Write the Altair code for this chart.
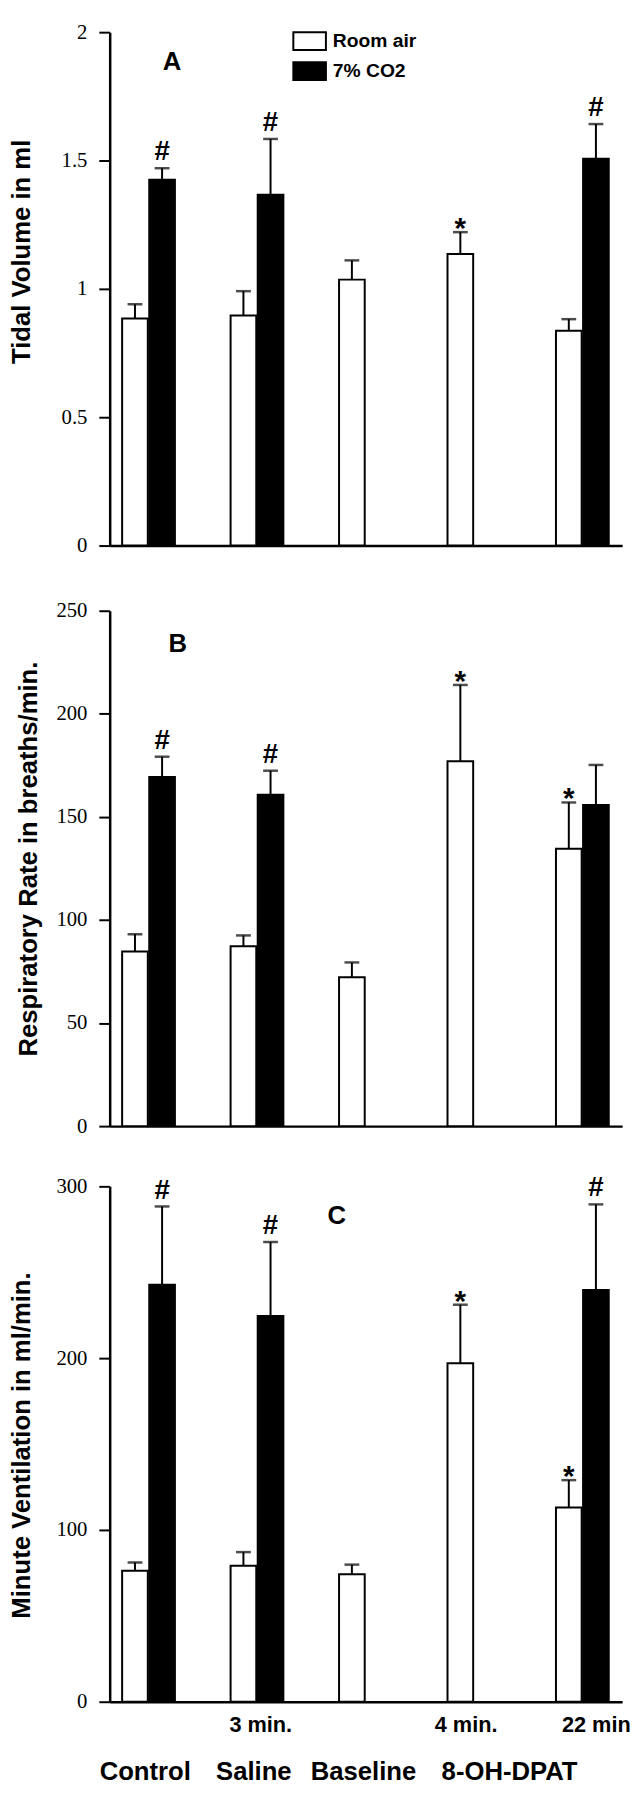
import altair as alt
import pandas as pd

groups = ["Control", "Saline 3 min.", "Baseline", "8-OH-DPAT 4 min.", "8-OH-DPAT 22 min"]
conditions = ["Room air", "7% CO2"]

# Panel A: tidal volume (ml)
tv_room_mean = [0.885, 0.896, 1.036, 1.136, 0.837]
tv_room_sem = [0.055, 0.095, 0.075, 0.085, 0.045]
tv_room_sig = ["", "", "", "*", ""]
tv_co2_mean = [1.425, 1.367, None, None, 1.507]
tv_co2_sem = [0.045, 0.217, None, None, 0.135]
tv_co2_sig = ["#", "#", "", "", "#"]

# Panel B: respiratory rate (breaths/min)
rr_room_mean = [84.7, 87.2, 72.2, 177.0, 134.6]
rr_room_sem = [8.4, 5.3, 7.2, 37.0, 22.4]
rr_room_sig = ["", "", "", "*", "*"]
rr_co2_mean = [169.4, 160.8, None, None, 155.8]
rr_co2_sem = [9.8, 11.6, None, None, 19.4]
rr_co2_sig = ["#", "#", "", "", ""]

# Panel C: minute ventilation (ml/min)
mv_room_mean = [76.2, 79.1, 74.2, 197.0, 113.1]
mv_room_sem = [4.8, 8.0, 5.6, 34.1, 15.9]
mv_room_sig = ["", "", "", "*", "*"]
mv_co2_mean = [242.8, 224.6, None, None, 239.7]
mv_co2_sem = [45.5, 43.0, None, None, 49.8]
mv_co2_sig = ["#", "#", "", "", "#"]

time_labels = ["3 min.", "4 min.", "22 min"]
group_labels = ["Control", "Saline", "Baseline", "8-OH-DPAT"]

SANS = "Liberation Sans"
SERIF = "Liberation Serif"
BAR_SHIFT = {"Room air": -0.125, "7% CO2": 0.125}


def make_df(rm, rs, rsig, cm, cs, csig):
    rows = []
    for i, g in enumerate(groups):
        for cond, m, s, sig in (("Room air", rm[i], rs[i], rsig[i]),
                                ("7% CO2", cm[i], cs[i], csig[i])):
            if m is None:
                continue
            rows.append({"group": g, "cond": cond, "xpos": i + BAR_SHIFT[cond],
                         "mean": m, "upper": m + s, "sig": sig})
    return pd.DataFrame(rows)


def panel(df, ymax, yvals, title, title_x, title_y, height, letter, lx, ly, lsize,
          legend=None, x_title=None, extra=None):
    xscale = alt.Scale(domain=[-0.3125, 4.321], nice=False, zero=False)
    yscale = alt.Scale(domain=[0, ymax], nice=False)
    xaxis_kw = dict(labels=False, ticks=False, grid=False, domainColor="black",
                    domainWidth=2.5)
    if x_title is not None:
        xaxis = alt.Axis(title=x_title, titleFontSize=17, titlePadding=0, **xaxis_kw)
    else:
        xaxis = alt.Axis(title=None, **xaxis_kw)
    yaxis = alt.Axis(values=yvals, format="~r", grid=False, domainColor="black",
                     domainWidth=2.5, tickColor="black", tickWidth=2, tickSize=11,
                     labelFont=SERIF, labelFontSize=21, labelColor="black",
                     labelPadding=12, title=title, titleFont=SANS,
                     titleFontWeight="bold", titleFontSize=26, titleColor="black",
                     titleBaseline="alphabetic", titleX=title_x, titleY=title_y)
    base = alt.Chart(df)
    fill_kw = dict(scale=alt.Scale(domain=conditions, range=["white", "black"]))
    fill_kw["legend"] = legend if legend is not None else None
    bars = base.mark_bar(width=26, stroke="black", strokeWidth=2).encode(
        x=alt.X("xpos:Q", scale=xscale, axis=xaxis),
        y=alt.Y("mean:Q", scale=yscale, axis=yaxis),
        fill=alt.Fill("cond:N", **fill_kw),
    )
    stems = base.mark_rule(color="black", strokeWidth=2).encode(
        x="xpos:Q", y="mean:Q", y2="upper:Q")
    caps = base.mark_tick(orient="horizontal", size=15, thickness=2.5,
                          color="black").encode(x="xpos:Q", y="upper:Q")
    hashes = base.transform_filter(alt.datum.sig == "#").mark_text(
        font=SANS, fontWeight="bold", fontSize=28, baseline="alphabetic",
        align="center", dy=-8, color="black").encode(
        x="xpos:Q", y="upper:Q", text="sig:N")
    stars = base.transform_filter(alt.datum.sig == "*").mark_text(
        font=SANS, fontWeight="bold", fontSize=30, baseline="alphabetic",
        align="center", dy=6, color="black").encode(
        x="xpos:Q", y="upper:Q", text="sig:N")
    let = alt.Chart(pd.DataFrame({"t": [letter]})).mark_text(
        font=SANS, fontWeight="bold", fontSize=lsize, baseline="alphabetic",
        align="center", color="black").encode(
        text="t:N", x=alt.value(lx), y=alt.value(ly))
    layers = [bars, stems, caps, hashes, stars, let]
    if extra:
        layers += extra
    return alt.layer(*layers).properties(width=519, height=height)


dfA = make_df(tv_room_mean, tv_room_sem, tv_room_sig, tv_co2_mean, tv_co2_sem, tv_co2_sig)
dfB = make_df(rr_room_mean, rr_room_sem, rr_room_sig, rr_co2_mean, rr_co2_sem, rr_co2_sig)
dfC = make_df(mv_room_mean, mv_room_sem, mv_room_sig, mv_co2_mean, mv_co2_sem, mv_co2_sig)

legendA = alt.Legend(title=None, orient="none", legendX=191.5, legendY=-2,
                     direction="vertical",
                     symbolType="M-1.65,-0.9H1.65V0.9H-1.65Z", symbolSize=400,
                     symbolStrokeColor="black", symbolStrokeWidth=2,
                     labelFont=SANS, labelFontWeight="bold", labelFontSize=19.5,
                     labelColor="black", labelOffset=12.5, rowPadding=4.5,
                     padding=0)

# bottom annotation texts (panel C)
time_px = [153, 361, 458]
time_align = ["center", "center", "left"]
group_px = [36, 146, 257, 405]
extraC = []
for t, px, al in zip(time_labels, time_px, time_align):
    extraC.append(alt.Chart(pd.DataFrame({"t": [t]})).mark_text(
        font=SANS, fontWeight="bold", fontSize=22, baseline="alphabetic",
        align=al, color="black").encode(text="t:N", x=alt.value(px), y=alt.value(553)))
for t, px in zip(group_labels, group_px):
    extraC.append(alt.Chart(pd.DataFrame({"t": [t]})).mark_text(
        font=SANS, fontWeight="bold", fontSize=26, baseline="alphabetic",
        align="center", color="black").encode(text="t:N", x=alt.value(px), y=alt.value(601)))

A = panel(dfA, 2, [0, 0.5, 1, 1.5, 2], "Tidal Volume in ml", -81, 222, 520,
          "A", 63, 38, 26, legend=legendA, x_title=" ")
B = panel(dfB, 250, [0, 50, 100, 150, 200, 250], "Respiratory Rate in breaths/min.",
          -74, 251, 522, "B", 69, 42, 26)
C = panel(dfC, 300, [0, 100, 200, 300], "Minute Ventilation in ml/min.",
          -81, 262, 522, "C", 230, 38, 26, extra=extraC)

chart = alt.vconcat(A, B, C, spacing=39).resolve_scale(
    fill="independent").resolve_legend(fill="independent").properties(
    padding={"left": 0, "top": 2, "right": 0, "bottom": 0},
    background="white",
).configure_view(stroke=None)

chart.save("out.html", embed_options={"renderer": "svg", "actions": False})
